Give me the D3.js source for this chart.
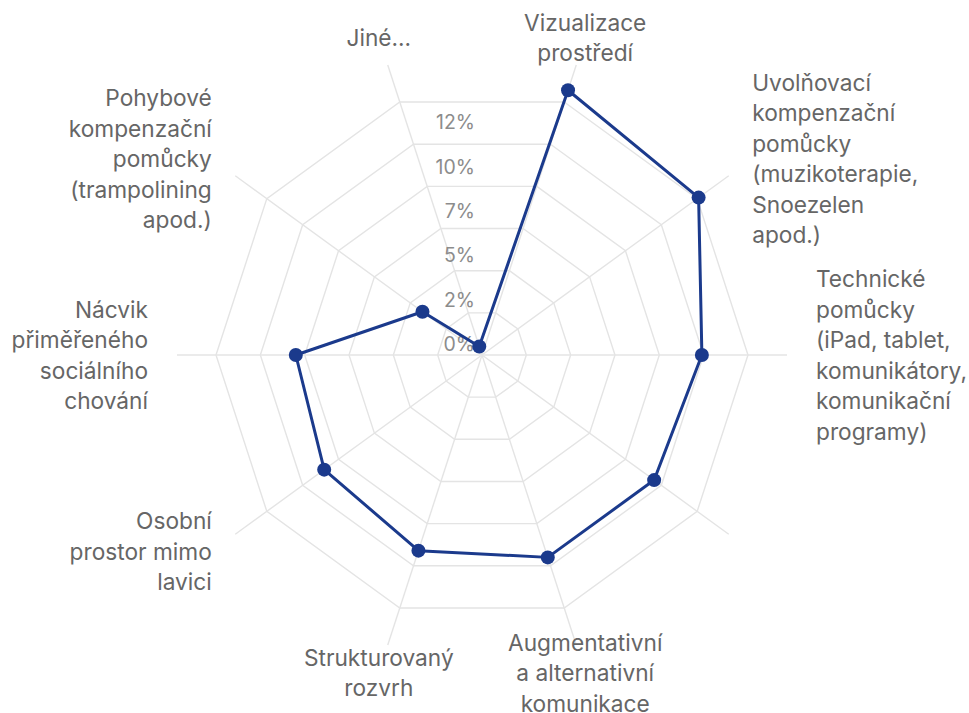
<!DOCTYPE html>
<html><head><meta charset="utf-8">
<script src="https://cdn.jsdelivr.net/npm/d3@7"></script>
<style>body{margin:0;background:#fff} svg{display:block}</style>
</head><body><svg id="c" width="969" height="713"></svg>
<script>
const categories = [
  ["Vizualizace","prostředí"],
  ["Uvolňovací","kompenzační","pomůcky","(muzikoterapie,","Snoezelen","apod.)"],
  ["Technické","pomůcky","(iPad, tablet,","komunikátory,","komunikační","programy)"],
  [""],
  ["Augmentativní","a alternativní","komunikace"],
  ["Strukturovaný","rozvrh"],
  ["Osobní","prostor mimo","lavici"],
  ["Nácvik","přiměřeného","sociálního","chování"],
  ["Pohybové","kompenzační","pomůcky","(trampolining","apod.)"],
  ["Jiné..."]
];
const values = [15.7, 15.1, 12.4, 12.0, 12.0, 11.6, 11.0, 10.5, 4.15, 0.5];
const tickValues = [0, 2.5, 5, 7.5, 10, 12.5];
const tickLabels = ["0%","2%","5%","7%","10%","12%"];
const ringValues = [2.5, 5, 7.5, 10, 12.5, 15];
const axisMax = 17.2;

const svg = d3.select("#c");
const cx = 482, cy = 355;
const n = categories.length;
const r = d3.scaleLinear().domain([0, axisMax]).range([0, 305]);
const ang = d3.scaleLinear().domain([0, n]).range([Math.PI/10, Math.PI/10 + 2*Math.PI]);
const g = svg.append("g").attr("transform", `translate(${cx},${cy})`);
const idx = d3.range(n);

// rings
const ringLine = d3.lineRadial().angle(i => ang(i)).curve(d3.curveLinearClosed);
g.selectAll("path.ring").data(ringValues).join("path")
  .attr("class","ring")
  .attr("d", v => ringLine.radius(() => r(v))(idx))
  .attr("fill","none").attr("stroke","#e4e4e4").attr("stroke-width",1.4);

// axes
g.selectAll("line.axis").data(idx).join("line")
  .attr("class","axis")
  .attr("x1",0).attr("y1",0)
  .attr("x2", i => r(axisMax)*Math.sin(ang(i)))
  .attr("y2", i => -r(axisMax)*Math.cos(ang(i)))
  .attr("stroke","#e4e4e4").attr("stroke-width",1.4);

// tick labels
g.selectAll("text.tick").data(tickValues).join("text")
  .attr("class","tick")
  .attr("x",-7).attr("y", v => -r(v) - 4)
  .attr("text-anchor","end")
  .attr("font-family","Inter, sans-serif").attr("font-size",19.5)
  .attr("fill","#8c8c8c")
  .text((v,k) => tickLabels[k]);

// data line
const dataLine = d3.lineRadial().angle((d,i) => ang(i)).radius(d => r(d)).curve(d3.curveLinearClosed);
g.append("path").attr("d", dataLine(values))
  .attr("fill","none").attr("stroke","#1b3a8c").attr("stroke-width",3).attr("stroke-linejoin","round");
g.selectAll("circle.pt").data(values).join("circle")
  .attr("class","pt")
  .attr("cx",(d,i) => r(d)*Math.sin(ang(i)))
  .attr("cy",(d,i) => -r(d)*Math.cos(ang(i)))
  .attr("r",7).attr("fill","#1b3a8c");

// category labels
const rL = r(axisMax) + 29, lh = 30.5;
idx.forEach(i => {
  const a = ang(i), s = Math.sin(a);
  const x = rL*s, y = -rL*Math.cos(a);
  const anchor = Math.abs(s) < 0.5 ? "middle" : (s > 0 ? "start" : "end");
  const lines = categories[i];
  const t = g.append("text").attr("text-anchor",anchor)
    .attr("font-family","Inter, sans-serif").attr("font-size",22.7).attr("fill","#666");
  lines.forEach((ln,k) => {
    t.append("tspan").attr("x",x).attr("y", y - (lines.length-1)*lh/2 + k*lh)
      .attr("dominant-baseline","central").text(ln);
  });
});
</script></body></html>
